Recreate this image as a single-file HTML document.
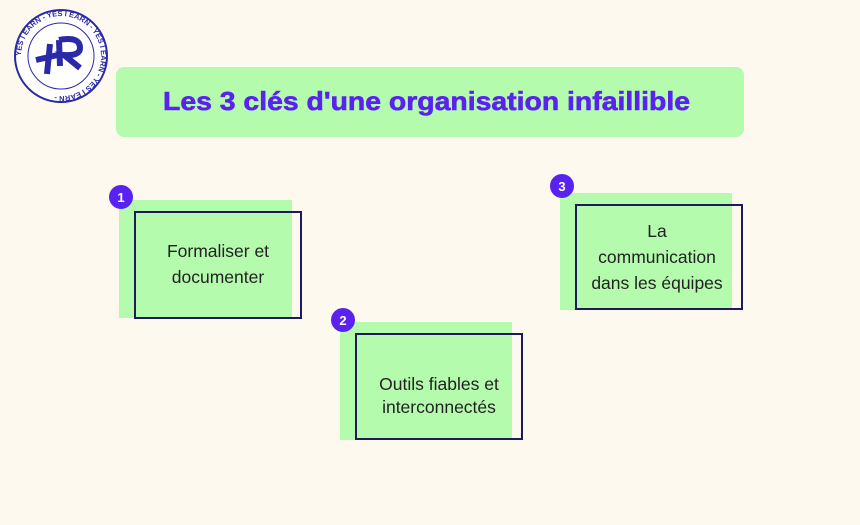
<!DOCTYPE html>
<html><head><meta charset="utf-8"><style>
html,body{margin:0;padding:0;background:#fdf9ee;}
body{width:860px;height:520px;overflow:hidden;}
</style></head><body>
<svg width="860" height="520" viewBox="0 0 860 520" xmlns="http://www.w3.org/2000/svg" font-family="Liberation Sans, sans-serif">
<rect width="860" height="520" fill="#fdf9ee"/>
<g>
<circle cx="61" cy="56" r="46" fill="#fff" stroke="#2a2aa8" stroke-width="2"/>
<circle cx="61" cy="56" r="33" fill="none" stroke="#2a2aa8" stroke-width="1"/>
<defs><path id="lp" d="M61,56 m-40,0 a40,40 0 1,1 80,0 a40,40 0 1,1 -80,0"/></defs>
<text font-size="7.5" font-weight="bold" fill="#2a2aa8"><textPath href="#lp">YES I EARN - YES I EARN - YES I EARN - YES I EARN -</textPath></text>
<path d="M36,60 L62,54 M50,44 L47,74" fill="none" stroke="#2a2aa8" stroke-width="6"/>
<path d="M59,40 L60,66 M59,40 Q80,36 80,48 Q80,56 64,55 L80,68" fill="none" stroke="#2a2aa8" stroke-width="6"/>
</g>
<rect x="116" y="67" width="628" height="70" rx="8" fill="#b5fbad"/>
<text x="163" y="110" font-size="26" font-weight="bold" fill="#5a22f0" stroke="#5a22f0" stroke-width="0.6" textLength="527" lengthAdjust="spacingAndGlyphs">Les 3 clés d'une organisation infaillible</text>
<rect x="119" y="200" width="173" height="118" fill="#b5fbad"/>
<rect x="135" y="212" width="166" height="106" fill="none" stroke="#1e1a5e" stroke-width="2"/>
<circle cx="121" cy="197" r="12" fill="#5a22f0"/>
<text x="121" y="202" font-size="13" font-weight="bold" fill="#fff" text-anchor="middle">1</text>
<text x="218" y="257" font-size="17.5" fill="#222" text-anchor="middle">Formaliser et</text>
<text x="218" y="283" font-size="17.5" fill="#222" text-anchor="middle">documenter</text>
<rect x="340" y="322" width="172" height="118" fill="#b5fbad"/>
<rect x="356" y="334" width="166" height="105" fill="none" stroke="#1e1a5e" stroke-width="2"/>
<circle cx="343" cy="320" r="12" fill="#5a22f0"/>
<text x="343" y="325" font-size="13" font-weight="bold" fill="#fff" text-anchor="middle">2</text>
<text x="439" y="390" font-size="17.5" fill="#222" text-anchor="middle">Outils fiables et</text>
<text x="439" y="413" font-size="17.5" fill="#222" text-anchor="middle">interconnectés</text>
<rect x="560" y="193" width="172" height="117" fill="#b5fbad"/>
<rect x="576" y="205" width="166" height="104" fill="none" stroke="#1e1a5e" stroke-width="2"/>
<circle cx="562" cy="186" r="12" fill="#5a22f0"/>
<text x="562" y="191" font-size="13" font-weight="bold" fill="#fff" text-anchor="middle">3</text>
<text x="657" y="237" font-size="17.5" fill="#222" text-anchor="middle">La</text>
<text x="657" y="263" font-size="17.5" fill="#222" text-anchor="middle">communication</text>
<text x="657" y="289" font-size="17.5" fill="#222" text-anchor="middle">dans les équipes</text>
</svg>
</body></html>
